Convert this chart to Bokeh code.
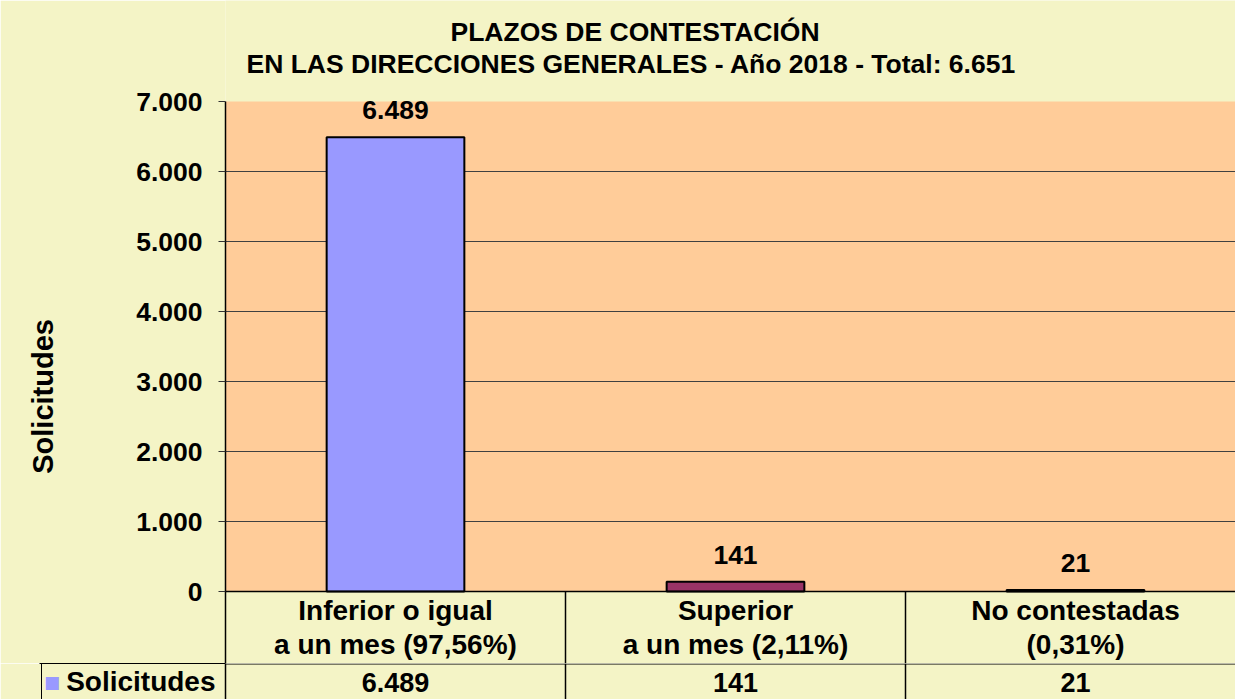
from bokeh.plotting import figure
from bokeh.layouts import column
from bokeh.models import (Range1d, FixedTicker, Span, Label, BoxAnnotation, LinearAxis,
                          ColumnDataSource)
from bokeh.core.properties import value
from bokeh.embed import file_html
from bokeh.resources import INLINE

# ---------------- data ----------------
cat_line1 = ["Inferior o igual", "Superior", "No contestadas"]
cat_line2 = ["a un mes (97,56%)", "a un mes (2,11%)", "(0,31%)"]
counts = [6489, 141, 21]
count_labels = ["6.489", "141", "21"]
bar_colors = ["#9999FF", "#993366", "#FFFFCC"]
y_ticks = [0, 1000, 2000, 3000, 4000, 5000, 6000, 7000]
y_tick_labels = ["0", "1.000", "2.000", "3.000", "4.000", "5.000", "6.000", "7.000"]
series_name = "Solicitudes"
title1 = "PLAZOS DE CONTESTACIÓN"
title2 = "EN LAS DIRECCIONES GENERALES -  Año 2018 - Total: 6.651"

FNAME = "Liberation Sans"
FONT = value(FNAME)
PALE = "#F4F4C6"
ORANGE = "#FFCC99"

W = 1235
H_MAIN, H_TABLE = 663, 36
FRAME_L = 225            # left edge of plotting area (px)
CELL_W = 186             # width of the legend cell of the data table (px)
ZERO_PX = 591            # vertical pixel of value 0
TOP_PX = 101             # vertical pixel of value 7000
CAT_PX = 340.0           # pixel width of one category
Y_MAX = 7000
PX_PER_UNIT = (ZERO_PX - TOP_PX) / Y_MAX
Y_TOP = Y_MAX + TOP_PX / PX_PER_UNIT
Y_MIN = -(H_MAIN - ZERO_PX) / PX_PER_UNIT

n = len(counts)
xs = [i + 0.5 for i in range(n)]
src = ColumnDataSource(dict(x=xs, top=counts, color=bar_colors, lab=count_labels,
                            l1=cat_line1, l2=cat_line2, zero=[0] * n))
xr = Range1d(0, (W - FRAME_L) / CAT_PX)
sep_x = [x - 0.5 for x in xs[1:]]

# ================= main chart =================
p = figure(width=W, height=H_MAIN, x_range=xr, y_range=Range1d(Y_MIN, Y_TOP),
           x_axis_location=None, title_location=None, output_backend="svg", toolbar_location=None,
           min_border_left=FRAME_L, min_border_top=0, min_border_right=0, min_border_bottom=0)
p.border_fill_color = PALE
p.background_fill_color = PALE
p.outline_line_color = None

p.add_layout(BoxAnnotation(bottom=0, top=Y_MAX, fill_color=ORANGE, fill_alpha=1,
                           line_alpha=0, level="image"))

p.xgrid.visible = False
p.ygrid.ticker = FixedTicker(ticks=y_ticks[1:-1])
p.ygrid.grid_line_color = "#404040"
p.ygrid.grid_line_width = 1

ax = p.yaxis[0]
ax.ticker = FixedTicker(ticks=y_ticks)
ax.bounds = (Y_MIN, Y_MAX)
ax.major_label_overrides = {t: s for t, s in zip(y_ticks, y_tick_labels)}
ax.minor_tick_line_color = None
ax.major_tick_out = 7
ax.major_tick_in = 0
ax.major_tick_line_color = "#333333"
ax.axis_line_color = "black"
ax.axis_line_width = 1.5
ax.major_label_standoff = 16
ax.major_label_text_font = FNAME
ax.major_label_text_font_size = "26.5px"
ax.major_label_text_font_style = "bold"
ax.major_label_text_color = "black"
# trailing no-break spaces move the rotated title down to where the reference has it
ax.axis_label = series_name + "\u00a0" * 16
ax.axis_label_text_font = FNAME
ax.axis_label_text_font_size = "29px"
ax.axis_label_text_font_style = "bold"
ax.axis_label_text_color = "black"
ax.axis_label_standoff = 74

p.vbar(x="x", top="top", width=0.405, bottom=0, source=src, fill_color="color",
       line_color="black", line_width=2)

p.add_layout(Span(location=0, dimension="width", line_color="black", line_width=1.5))
p.segment(x0=sep_x, x1=sep_x, y0=0, y1=Y_MIN, line_color="black", line_width=1.5)

p.text(x="x", y="top", text="lab", source=src, y_offset=-27, text_align="center",
       text_baseline="middle", text_font=FONT, text_font_size="26.5px", text_font_style="bold",
       text_color="black")
p.text(x="x", y="zero", text="l1", source=src, y_offset=18.5, text_align="center",
       text_baseline="middle", text_font=FONT, text_font_size="28px", text_font_style="bold",
       text_color="black")
p.text(x="x", y="zero", text="l2", source=src, y_offset=53, text_align="center",
       text_baseline="middle", text_font=FONT, text_font_size="28px", text_font_style="bold",
       text_color="black")

p.add_layout(Label(x=409.5, y=H_MAIN - 31, x_units="screen", y_units="screen", text=title1,
                   text_align="center", text_baseline="middle", text_font=FNAME,
                   text_font_size="26.5px", text_font_style="bold", text_color="black"))
p.add_layout(Label(x=409.5, y=H_MAIN - 63, x_units="screen", y_units="screen", text=title2,
                   text_align="center", text_baseline="middle", text_font=FNAME,
                   text_font_size="26.5px", text_font_style="bold", text_color="black"))

# ================= data table row =================
ROW_Y = 18               # row centre, measured from the bottom of the table strip
t = figure(width=W, height=H_TABLE, x_range=xr, y_range=Range1d(0, H_TABLE),
           x_axis_location=None, title_location=None, output_backend="svg", toolbar_location=None,
           min_border_left=FRAME_L, min_border_top=0, min_border_right=0, min_border_bottom=0)
t.border_fill_color = PALE
t.background_fill_color = PALE
t.outline_line_color = None
t.xgrid.ticker = FixedTicker(ticks=sep_x)
t.xgrid.grid_line_color = "black"
t.xgrid.grid_line_width = 1.5
t.ygrid.visible = False
t.add_layout(Span(location=H_TABLE - 0.5, dimension="width", line_color="black", line_width=1))
t.text(x="x", y=H_TABLE, text="lab", source=src, y_offset=19, text_align="center",
       text_baseline="middle", text_font=FONT, text_font_size="27px", text_font_style="bold",
       text_color="black")

# legend cell of the table: its top border is a long minor tick, its text a tick label,
# its key the axis label and its left border a second (empty) axis
ya = t.yaxis[0]
ya.ticker = FixedTicker(ticks=[ROW_Y], minor_ticks=[H_TABLE - 0.1])
ya.major_label_overrides = {ROW_Y: series_name}
ya.major_tick_out = 0
ya.major_tick_in = 0
ya.minor_tick_out = CELL_W
ya.minor_tick_in = 0
ya.minor_tick_line_color = "black"
ya.minor_tick_line_width = 1
ya.axis_line_color = "black"
ya.axis_line_width = 1.5
ya.major_label_standoff = 10 - CELL_W
ya.major_label_text_font = FNAME
ya.major_label_text_font_size = "28px"
ya.major_label_text_font_style = "bold"
ya.major_label_text_color = "black"
ya.axis_label = "\u25a0"
ya.axis_label_orientation = "horizontal"
ya.axis_label_text_font = "DejaVu Sans"
ya.axis_label_text_font_size = "17px"
ya.axis_label_text_color = "#9999FF"
ya.axis_label_standoff = 3

yb = LinearAxis(ticker=FixedTicker(ticks=[]), axis_line_color="black", axis_line_width=1,
                major_tick_out=0, major_tick_in=0, minor_tick_out=0, minor_tick_in=0,
                major_label_standoff=0)
t.add_layout(yb, "left")

layout = column(p, t, spacing=0)
open("out.html", "w").write(file_html(layout, INLINE))
